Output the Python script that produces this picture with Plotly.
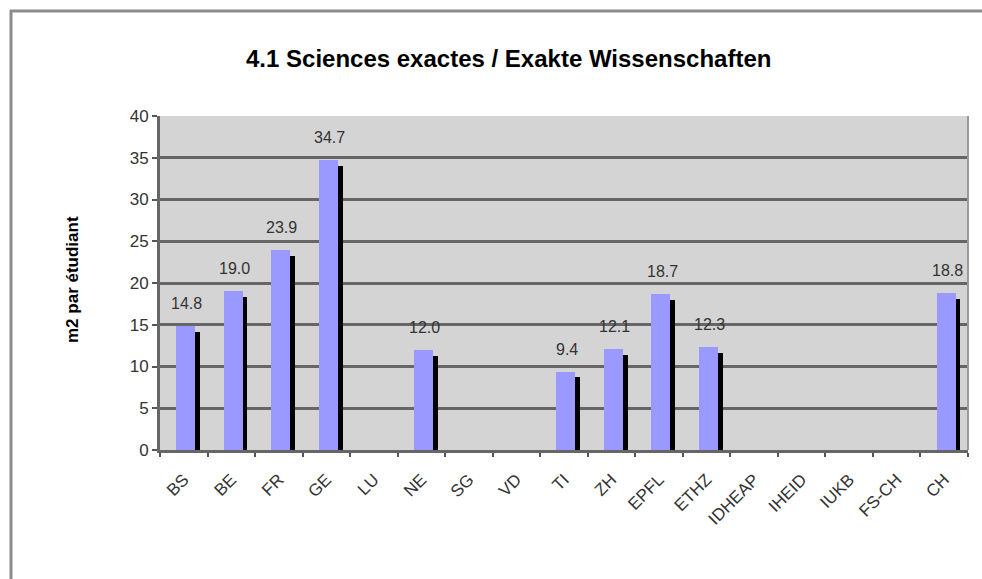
import plotly.graph_objects as go

categories = ["BS", "BE", "FR", "GE", "LU", "NE", "SG", "VD", "TI", "ZH",
              "EPFL", "ETHZ", "IDHEAP", "IHEID", "IUKB", "FS-CH", "CH"]
values = [14.8, 19.0, 23.9, 34.7, None, 12.0, None, None, 9.4, 12.1,
          18.7, 12.3, None, None, None, None, 18.8]
y_ticks = [0, 5, 10, 15, 20, 25, 30, 35, 40]

title_text = "4.1 Sciences exactes / Exakte Wissenschaften"
y_title = "m2 par étudiant"

FONT = "Arial, Liberation Sans, sans-serif"
W, H = 982, 579
L, R, T, B = 160, 14, 116, 129
pw, ph = W - L - R, H - T - B

shadow_drop = 0.7
shadow_vals = [None if v is None else v - shadow_drop for v in values]

fig = go.Figure()
fig.add_trace(go.Bar(
    x=categories, y=shadow_vals, width=0.14, offset=0.2,
    marker=dict(color="#000000", line=dict(width=0)),
    hoverinfo="skip", showlegend=False))
fig.add_trace(go.Bar(
    x=categories, y=values, width=0.4, offset=-0.16,
    marker=dict(color="#9999ff", line=dict(width=0)),
    showlegend=False))

for c, v in zip(categories, values):
    if v is None:
        continue
    fig.add_annotation(x=c, y=v, text=f"{v:.1f}", showarrow=False,
                       xref="x", yref="y", yanchor="bottom", yshift=12, xshift=3,
                       font=dict(family=FONT, size=16, color="#333333"))

# frame lines (decoration)
fx = lambda px: (px - L) / pw
fy = lambda py: (H - B - py) / ph
fig.add_shape(type="line", xref="paper", yref="paper",
              x0=fx(10), x1=fx(W), y0=fy(11), y1=fy(11),
              line=dict(color="#8c8c8c", width=3))
fig.add_shape(type="line", xref="paper", yref="paper",
              x0=fx(11), x1=fx(11), y0=fy(10), y1=fy(H),
              line=dict(color="#8c8c8c", width=3))
# right plot border
fig.add_shape(type="line", xref="paper", yref="paper",
              x0=1, x1=1, y0=0, y1=1, line=dict(color="#9a9a9a", width=2))

fig.add_annotation(text="<b>" + y_title + "</b>", xref="paper", yref="paper",
                   x=fx(72), y=fy(280), xanchor="center", yanchor="middle",
                   textangle=-90, showarrow=False,
                   font=dict(family=FONT, size=17, color="#000000"))
fig.add_annotation(text="<b>" + title_text + "</b>", xref="paper", yref="paper",
                   x=fx(508), y=fy(58), xanchor="center", yanchor="middle",
                   showarrow=False,
                   font=dict(family=FONT, size=24, color="#000000"))

fig.update_layout(
    width=W, height=H,
    margin=dict(l=L, r=R, t=T, b=B),
    paper_bgcolor="#ffffff", plot_bgcolor="#d4d4d4",
    barmode="overlay", bargap=0,
    font=dict(family=FONT, size=12, color="#333333"),
)
fig.update_xaxes(
    type="category", categoryorder="array", categoryarray=categories,
    range=[-0.5, len(categories) - 0.5],
    tickangle=-45, tickfont=dict(family=FONT, size=17, color="#333333"),
    ticklabelstandoff=10,
    showgrid=False, showline=True, linecolor="#666666", linewidth=3,
    ticks="outside", ticklen=4, tickwidth=2, tickcolor="#555555",
    tickson="boundaries",
)
fig.update_yaxes(
    range=[0, 40], tickvals=y_ticks, ticktext=[str(t) for t in y_ticks],
    tickfont=dict(family=FONT, size=17, color="#333333"),
    showgrid=True, gridcolor="#666666", gridwidth=3,
    zeroline=False, showline=True, linecolor="#666666", linewidth=3,
    ticks="outside", ticklen=5, tickwidth=2, tickcolor="#555555",
)

fig.write_html("out.html", config={"displayModeBar": False},
               post_script="document.body.style.margin='0';document.body.style.padding='0';")
